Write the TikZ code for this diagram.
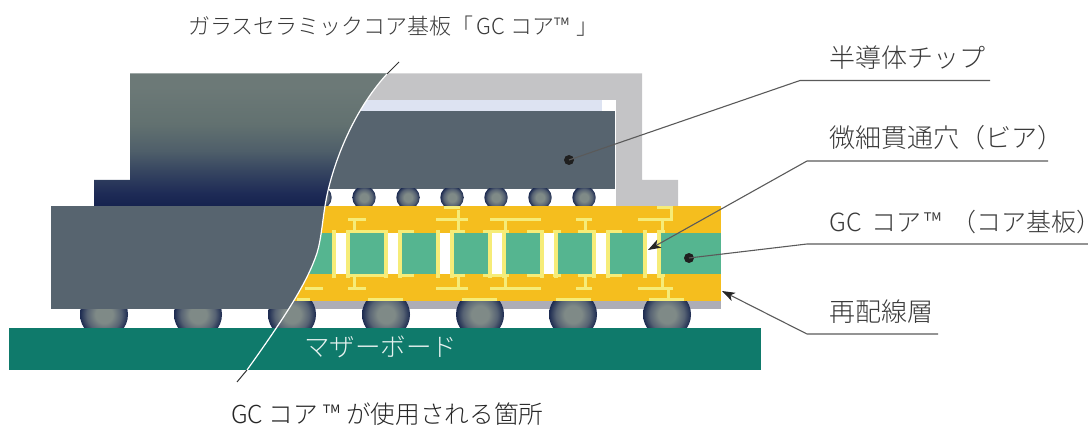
\documentclass[tikz,border=0pt]{standalone}
\usepackage{fontspec}
\setmainfont{Noto Sans CJK JP Light}
\newcommand{\halfw}{\addfontfeatures{RawFeature=+halt}}
\usetikzlibrary{arrows.meta}
\definecolor{lidA}{HTML}{6C7977}
\definecolor{lidB}{HTML}{627170}
\definecolor{lidC}{HTML}{4F5F6A}
\definecolor{lidD}{HTML}{354460}
\definecolor{lidE}{HTML}{1E2B56}
\definecolor{lidF}{HTML}{15224E}
\definecolor{coreyellow}{HTML}{F5BE1E}
\definecolor{coregreen}{HTML}{55B590}
\definecolor{paleline}{HTML}{F6EC78}
\definecolor{rdlgray}{HTML}{ADADB6}
\definecolor{lidgray}{HTML}{C4C4C6}
\definecolor{paleblue}{HTML}{DDE3F2}
\definecolor{chipgray}{HTML}{57646F}
\definecolor{board}{HTML}{0F7A6B}
\definecolor{bumpin}{HTML}{7F8A87}
\definecolor{bumpmid}{HTML}{566273}
\definecolor{bumpout}{HTML}{1C2A50}
\definecolor{leadercol}{HTML}{5A5A5A}
\definecolor{textcol}{HTML}{3A3A3A}
\pgfdeclareverticalshading{lidshade}{100bp}{color(0bp)=(lidF); color(25bp)=(lidF); color(30bp)=(lidE); color(38bp)=(lidD); color(46bp)=(lidC); color(56bp)=(lidB); color(70bp)=(lidA); color(100bp)=(lidA)}
\pgfdeclareradialshading{bumpshade}{\pgfpoint{0bp}{0bp}}{color(0bp)=(bumpin); color(9bp)=(bumpin); color(18bp)=(bumpmid); color(25bp)=(bumpout); color(50bp)=(bumpout)}
\tikzset{
  pale/.style={fill=paleline,draw=none},
  leader/.style={draw=leadercol,line width=1.1pt},
  arrowleader/.style={leader,{Stealth[length=13pt,width=9pt,inset=3.5pt,color=black!85]}-},
  dotmark/.style={circle,fill=black!88,draw=none,minimum size=10pt,inner sep=0pt},
  label/.style={anchor=west,inner sep=0pt,text=textcol,font=\fontsize{26}{30}\selectfont},
}
\newcommand{\cutcurve}{(387,74) .. controls (352,112) and (331,168) .. (325,206) .. controls (322,225) and (321,240) .. (317,253) .. controls (308,280) and (290,310) .. (247,370)}
\begin{document}
\begin{tikzpicture}[x=1pt,y=-1pt]
\useasboundingbox (0,0) rectangle (1088,425);
% lid, chip
\fill[lidgray] (290,73.5) -- (642,73.5) -- (642,180) -- (678,180) -- (678,206.5) -- (616,206.5) -- (616,100) -- (290,100) -- cycle;
\fill[paleblue] (290,100) rectangle (602,111);
\fill[chipgray] (290,111) rectangle (615,189);
% upper bumps
\foreach \bx in {320,364,408,452,496,540,584}{
  \begin{scope}
    \clip (\bx-13,189) rectangle (\bx+13,206.5);
    \shade[shading=bumpshade] (\bx,197.5) circle[radius=11.7];
  \end{scope}
}
% substrate
\fill[coreyellow] (285,206.5) rectangle (721,301);
\fill[coregreen] (285,233) rectangle (721,274);
\fill[rdlgray] (285,301) rectangle (721,309);
% vias
\foreach \a in {332,384,436,488,540,592,643}{
  \fill[white] (\a,233) rectangle (\a+15,274);
  \fill[pale] (\a,230) rectangle (\a+4,277.5);
  \fill[pale] (\a+14,230) rectangle (\a+17.5,277.5);
}
% caps on the core
\foreach \xa/\xb in {346/388,398/414,450/465,483/509,527/543,553/561,578/595,606/622,657/665}{
  \fill[pale] (\xa,230) rectangle (\xb,233);
  \fill[pale] (\xa,274) rectangle (\xb,277);
}
% wiring pads, upper and lower
\foreach \xa/\xb/\s in {348/366/354,436/468/458,490/541/505,576/592/585,638/673/662}{
  \fill[pale] (\xa,218) rectangle (\xb,221);
  \fill[pale] (\s-1.5,221) rectangle (\s+1.5,230);
  \fill[pale] (\xa,287) rectangle (\xb,290);
  \fill[pale] (\s-1.5,277) rectangle (\s+1.5,287);
}
\fill[pale] (305,287) rectangle (323,290);
\fill[pale] (456.5,210) rectangle (459.5,218);
\fill[pale] (444,206.5) rectangle (460,209.5);
\fill[pale] (669.5,209) rectangle (672.5,219);
\fill[pale] (657,206.5) rectangle (673,209.5);
\fill[pale] (666.5,290) rectangle (669.5,298);
\foreach \xa/\xb in {297/310,368/403,462/497,556/591,649/684}{
  \fill[pale] (\xa,298) rectangle (\xb,301);
}
% lower bumps
\foreach \bx in {104,198,292,386,480,573,667}{
  \begin{scope}
    \clip (\bx-26,301) rectangle (\bx+26,328);
    \shade[shading=bumpshade] (\bx,314.5) circle[radius=24];
  \end{scope}
}
% motherboard
\fill[board] (9,328) rectangle (761,370);
% cut-away part
\begin{scope}
  \clip \cutcurve -- (0,370) -- (0,62) -- (399,62) -- cycle;
  \shade[shading=lidshade] (130,73.5) -- (1000,73.5) -- (1000,206.5) -- (94,206.5) -- (94,180) -- (130,180) -- cycle;
  \fill[chipgray] (51,206) rectangle (1000,309);
\end{scope}
% section line
\coordinate (cutTop) at (399,62);
\coordinate (cutTopIn) at (387,74);
\coordinate (cutBotIn) at (247,370);
\coordinate (cutBot) at (237,382);
\draw[black!80,line width=1pt] (cutTop) -- (cutTopIn);
\draw[black!80,line width=1pt] (cutBotIn) -- (cutBot);
\draw[white,line width=1.2pt] \cutcurve;
% callouts
\node[dotmark] (dotChip) at (569,160) {};
\node[dotmark] (dotCore) at (689,258) {};
\coordinate (tipVia) at (648,250);
\coordinate (tipRdl) at (722,291);
\coordinate (elbowChip) at (800,80.5);
\coordinate (endChip) at (990,80.5);
\coordinate (elbowVia) at (807,161);
\coordinate (endVia) at (1048,161);
\coordinate (elbowCore) at (807,244);
\coordinate (endCore) at (1088,244);
\coordinate (elbowRdl) at (807,334);
\coordinate (endRdl) at (938,334);
\draw[leader] (dotChip.center) -- (elbowChip) -- (endChip);
\draw[arrowleader] (tipVia) -- (elbowVia) -- (endVia);
\draw[leader] (dotCore.center) -- (elbowCore) -- (endCore);
\draw[arrowleader] (tipRdl) -- (elbowRdl) -- (endRdl);
% labels
\node[label] (lChip) at (829,58) {半導体チップ};
\node[label] (lVia) at (829,138) {微細貫通穴（ビア）};
\node[label,font=\fontsize{25}{30}\selectfont] (lCore) at (829,222) {GC\kern4pt{} コア\kern3pt™\kern23pt{\halfw （}コア基板{\halfw ）}};
\node[label] (lRdl) at (829,312) {再配線層};
\node[anchor=west,inner sep=0pt,text=white!90!board,font=\fontsize{25.5}{30}\selectfont] (lBoard) at (304,347) {マザーボード};
\node[anchor=west,inner sep=0pt,text=textcol,font=\fontsize{22}{26}\selectfont] (lTop) at (188,26) {ガラスセラミックコア基板「\kern3pt GC コア™\kern7pt」};
\node[anchor=west,inner sep=0pt,text=black!85,font=\fontsize{24.7}{28}\selectfont] (lBot) at (231,414) {GC コア\kern5pt™\kern6ptが使用される箇所};
\end{tikzpicture}
\end{document}
